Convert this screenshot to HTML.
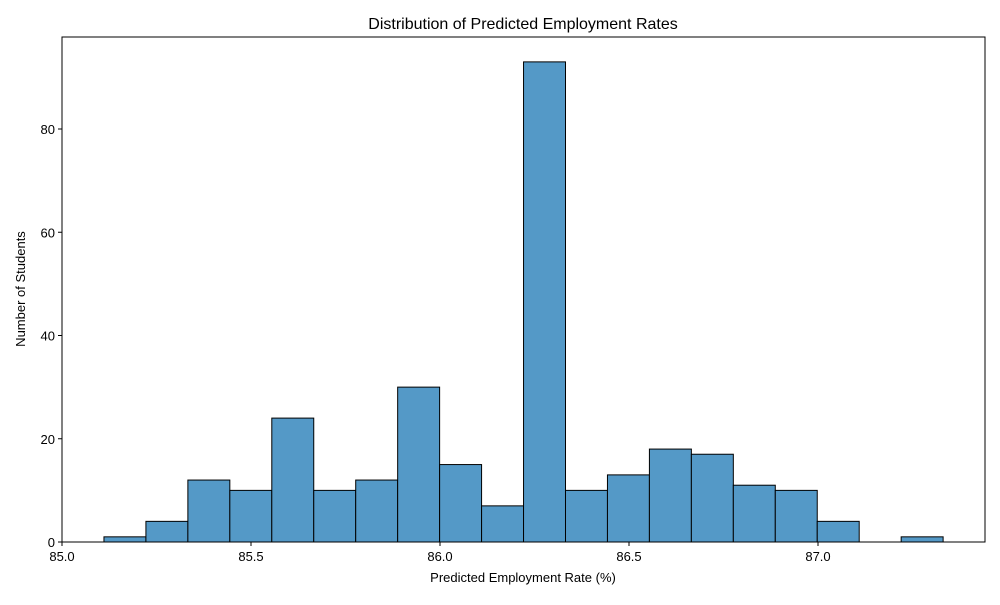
<!DOCTYPE html>
<html><head><meta charset="utf-8"><style>
body{margin:0;background:#fff;font-family:"Liberation Sans","DejaVu Sans",sans-serif}
svg text{font-family:"Liberation Sans","DejaVu Sans",sans-serif;fill:#000}
</style></head><body>
<svg id="chart" width="1000" height="600">
<text x="523" y="29" font-size="16" text-anchor="middle">Distribution of Predicted Employment Rates</text>
<g id="bars"></g>
<g id="axes"></g>
<text x="523" y="582" font-size="13" text-anchor="middle">Predicted Employment Rate (%)</text>
<text transform="translate(25,289) rotate(-90)" font-size="13" text-anchor="middle">Number of Students</text>
</svg>
<script>
const binStart = 85.111;
const binWidth = 0.111;
const counts = [1,4,12,10,24,10,12,30,15,7,93,10,13,18,17,11,10,4,0,1];
const xTicks = [85.0,85.5,86.0,86.5,87.0];
const xTickLabels = ["85.0","85.5","86.0","86.5","87.0"];
const yTicks = [0,20,40,60,80];

const L=62,R=985,T=37,B=542;
const xScale=v=>L+(v-85.0)*378;
const yScale=v=>B-v*(B-129)/80;
const NS="http://www.w3.org/2000/svg";
const bars=document.getElementById('bars'), axes=document.getElementById('axes');
counts.forEach((c,i)=>{
  if(c<=0)return;
  const x0=xScale(binStart+i*binWidth), x1=xScale(binStart+(i+1)*binWidth);
  const r=document.createElementNS(NS,'rect');
  r.setAttribute('x',x0);r.setAttribute('y',yScale(c));
  r.setAttribute('width',x1-x0);r.setAttribute('height',B-yScale(c));
  r.setAttribute('fill','#5499c7');r.setAttribute('stroke','#000');r.setAttribute('stroke-width','1');
  
  
  bars.appendChild(r);
});
const frame=document.createElementNS(NS,'rect');
frame.setAttribute('x',L);frame.setAttribute('y',T);frame.setAttribute('width',R-L);frame.setAttribute('height',B-T);
frame.setAttribute('fill','none');frame.setAttribute('stroke','#000');frame.setAttribute('stroke-width','1');


axes.appendChild(frame);
xTicks.forEach((v,i)=>{
  const x=xScale(v);
  const l=document.createElementNS(NS,'line');
  l.setAttribute('x1',x);l.setAttribute('x2',x);l.setAttribute('y1',B);l.setAttribute('y2',B+4);l.setAttribute('stroke','#000');
  
  
  axes.appendChild(l);
  const t=document.createElementNS(NS,'text');
  t.setAttribute('x',x);t.setAttribute('y',B+19);t.setAttribute('font-size','13');t.setAttribute('text-anchor','middle');
  t.textContent=xTickLabels[i];
  
  
  axes.appendChild(t);
});
yTicks.forEach(v=>{
  const y=yScale(v);
  const l=document.createElementNS(NS,'line');
  l.setAttribute('x1',L-4);l.setAttribute('x2',L);l.setAttribute('y1',y);l.setAttribute('y2',y);l.setAttribute('stroke','#000');
  
  
  axes.appendChild(l);
  const t=document.createElementNS(NS,'text');
  t.setAttribute('x',L-7);t.setAttribute('y',y+5);t.setAttribute('font-size','13');t.setAttribute('text-anchor','end');
  t.textContent=v;
  
  
  axes.appendChild(t);
});
</script>
</body></html>
